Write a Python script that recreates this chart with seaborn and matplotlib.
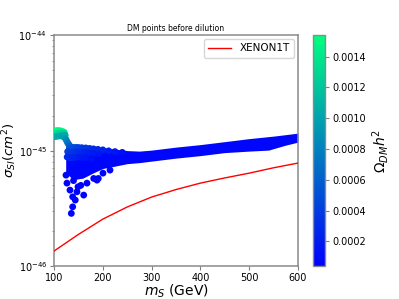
import numpy as np
import pandas as pd
import matplotlib
matplotlib.use("Agg")
import matplotlib.pyplot as plt
import seaborn as sns
from matplotlib.colors import Normalize
from matplotlib.cm import ScalarMappable

# ---- data ----
# XENON1T limit
xenon_m = [100, 150, 200, 250, 300, 350, 400, 450, 500, 550, 600]
xenon_sigma = [1.35e-46, 1.88e-46, 2.55e-46, 3.25e-46, 3.96e-46, 4.6e-46,
               5.23e-46, 5.8e-46, 6.38e-46, 7.1e-46, 7.8e-46]

# dense band of DM points (upper / lower envelope), low relic density
band_m = [124, 140, 160, 180, 200, 225, 250, 275, 300, 350, 400, 450, 500, 540, 550, 575, 600]
band_hi = [1.090e-45, 1.095e-45, 1.090e-45, 1.075e-45, 1.060e-45, 1.030e-45, 1.000e-45,
           0.990e-45, 1.010e-45, 1.072e-45, 1.127e-45, 1.196e-45, 1.270e-45, 1.322e-45,
           1.335e-45, 1.375e-45, 1.417e-45]
band_lo = [0.640e-45, 0.560e-45, 0.580e-45, 0.640e-45, 0.700e-45, 0.734e-45, 0.771e-45,
           0.787e-45, 0.811e-45, 0.861e-45, 0.905e-45, 0.961e-45, 0.990e-45, 1.010e-45,
           1.040e-45, 1.116e-45, 1.184e-45]
band_omega = 0.00008

# individual points (cap, neck, upper-edge gradient and low tail)
pts_m = [102, 106, 110, 114, 118, 121,
         102, 106, 110, 114, 118, 121,
         102, 106, 110, 114, 118, 121, 123,
         123, 125, 127, 129, 131, 133,
         135, 140, 145, 150, 157, 165, 173, 181, 190, 200, 212, 225, 240,
         128, 133, 138, 144, 150, 157, 165, 173, 182, 192,
         127, 132, 137, 143, 150, 158, 167, 177,
         135.5, 138.3, 143.6, 147.1, 138.3, 160.9, 149.2, 167.6, 181.4, 188.1,
         190.8, 200.4, 214.8, 124.6, 126.6, 132.8, 157.4, 170, 140, 155]
pts_sigma = [1.48e-45, 1.49e-45, 1.49e-45, 1.48e-45, 1.46e-45, 1.44e-45,
             1.40e-45, 1.41e-45, 1.41e-45, 1.41e-45, 1.40e-45, 1.38e-45,
             1.32e-45, 1.33e-45, 1.34e-45, 1.34e-45, 1.33e-45, 1.32e-45, 1.36e-45,
             1.28e-45, 1.24e-45, 1.19e-45, 1.15e-45, 1.12e-45, 1.09e-45,
             1.06e-45, 1.065e-45, 1.065e-45, 1.065e-45, 1.06e-45, 1.055e-45, 1.045e-45,
             1.035e-45, 1.025e-45, 1.015e-45, 0.995e-45, 0.98e-45, 0.965e-45,
             0.98e-45, 0.975e-45, 0.97e-45, 0.975e-45, 0.975e-45, 0.97e-45, 0.965e-45,
             0.955e-45, 0.945e-45, 0.935e-45,
             0.88e-45, 0.87e-45, 0.87e-45, 0.875e-45, 0.88e-45, 0.875e-45, 0.87e-45,
             0.86e-45,
             0.286e-45, 0.326e-45, 0.373e-45, 0.440e-45, 0.398e-45, 0.412e-45,
             0.486e-45, 0.523e-45, 0.574e-45, 0.555e-45, 0.574e-45, 0.638e-45,
             0.678e-45, 0.613e-45, 0.523e-45, 0.455e-45, 0.613e-45,
             0.678e-45, 0.55e-45, 0.50e-45]
pts_omega = [0.00152, 0.00152, 0.00150, 0.00148, 0.00145, 0.00140,
             0.00135, 0.00135, 0.00132, 0.00130, 0.00126, 0.00120,
             0.00110, 0.00108, 0.00105, 0.00102, 0.00098, 0.00095, 0.00105,
             0.00095, 0.00088, 0.00080, 0.00072, 0.00065, 0.00058,
             0.00052, 0.00048, 0.00045, 0.00042, 0.00039, 0.00036, 0.00033,
             0.00030, 0.00027, 0.00024, 0.00020, 0.00016, 0.00012,
             0.00042, 0.00039, 0.00036, 0.00033, 0.00030, 0.00027, 0.00024,
             0.00021, 0.00018, 0.00015,
             0.00030, 0.00028, 0.00026, 0.00024, 0.00022, 0.00019, 0.00016,
             0.00013,
             0.00006, 0.00006, 0.00006, 0.00006, 0.00006, 0.00006, 0.00006,
             0.00006, 0.00006, 0.00006, 0.00006, 0.00006, 0.00006,
             0.00008, 0.00006, 0.00006, 0.00006, 0.00006, 0.00006, 0.00006]

omega_min, omega_max = 0.00004, 0.00154
cbar_ticks = [0.0002, 0.0004, 0.0006, 0.0008, 0.0010, 0.0012, 0.0014]

# ---- figure ----
fig = plt.figure(figsize=(3.99, 2.99), dpi=100)
ax = fig.add_axes([0.1353, 0.110, 0.6115, 0.7726])
cax = fig.add_axes([0.7845, 0.110, 0.030, 0.7726])

cmap = plt.get_cmap("winter")
norm = Normalize(vmin=omega_min, vmax=omega_max)

ax.fill_between(band_m, band_lo, band_hi, color=cmap(norm(band_omega)), lw=0, zorder=2)

df = pd.DataFrame({"m": pts_m, "sigma": pts_sigma, "omega": pts_omega})
sns.scatterplot(data=df, x="m", y="sigma", hue="omega", palette="winter",
                hue_norm=norm, s=24, linewidth=0, legend=False, ax=ax, zorder=3)

xdf = pd.DataFrame({"m": xenon_m, "sigma": xenon_sigma})
sns.lineplot(data=xdf, x="m", y="sigma", color="red", lw=1.0, label="XENON1T",
             ax=ax, zorder=4)

ax.set_yscale("log")
ax.set_xlim(100, 600)
ax.set_ylim(1e-46, 1e-44)
ax.set_xticks([100, 200, 300, 400, 500, 600])
ax.tick_params(axis="both", which="major", labelsize=7, color="#808080", length=3, pad=2)
ax.tick_params(axis="both", which="minor", color="#808080", length=1.8)
for sp in ax.spines.values():
    sp.set_color("#8a8a8a")
    sp.set_linewidth(1.1)

ax.set_xlabel(r"$m_S$ (GeV)", fontsize=10, labelpad=0)
ax.set_ylabel(r"$\sigma_{SI}(cm^2)$", fontsize=9.5)
ax.yaxis.set_label_coords(-0.143, 0.5)
ax.set_title("DM points before dilution", fontsize=5.5, pad=3)
leg = ax.legend(loc="upper right", fontsize=7.5, frameon=True, handlelength=2.2,
                borderaxespad=0.4)

sm = ScalarMappable(norm=norm, cmap=cmap)
cb = fig.colorbar(sm, cax=cax, ticks=cbar_ticks)
cb.ax.set_yticklabels(["%.4f" % t for t in cbar_ticks])
cb.ax.tick_params(labelsize=7, color="#808080", length=3, pad=2)
cb.outline.set_edgecolor("#8a8a8a")
cb.outline.set_linewidth(1.0)
cb.set_label(r"$\Omega_{DM}h^2$", fontsize=10, labelpad=3)

fig.savefig("out.png", dpi=100)
